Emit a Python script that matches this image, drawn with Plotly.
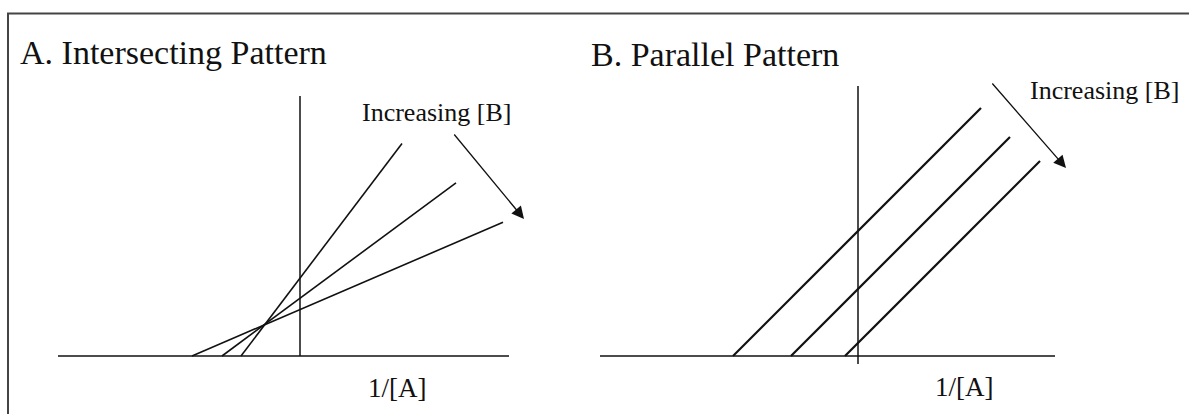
import plotly.graph_objects as go


#--------------------------------------------------
#      data (arbitrary units)
#--------------------------------------------------

# A. intersecting pattern: x-intercept, end of line, slope
a_x_start = [-0.59, -0.78, -1.08]
a_x_end = [1.02, 1.56, 2.03]
a_slope = [1.32, 0.74, 0.43]

# B. parallel pattern: same slope, shifted intercepts
b_x_start = [-1.25, -0.67, -0.13]
b_x_end = [1.23, 1.52, 1.82]
b_slope = [1.0, 1.0, 1.0]

# extent of the hand drawn axes
a_haxis = [-2.42, 2.09]
a_vaxis = [0, 2.60]
b_haxis = [-2.58, 1.97]
b_vaxis = [-0.08, 2.70]

# "increasing [B]" arrows, tail -> head
a_arrow_tail = (1.53, 2.23)
a_arrow_head = (2.24, 1.37)
b_arrow_tail = (1.33, 2.74)
b_arrow_head = (2.08, 1.88)

titles = ['A. Intersecting Pattern', 'B. Parallel Pattern']
xlabel = '1/[A]'
arrow_label = 'Increasing [B]'

#--------------------------------------------------
# plotting
#--------------------------------------------------

FONT = 'Liberation Serif'
INK = '#111111'

fig = go.Figure()


def add_axes(xr, yr, xa, ya):
    fig.add_trace(go.Scatter(x=xr, y=[0, 0], mode='lines', xaxis=xa, yaxis=ya,
                             line=dict(color=INK, width=1.5), hoverinfo='skip'))
    fig.add_trace(go.Scatter(x=[0, 0], y=yr, mode='lines', xaxis=xa, yaxis=ya,
                             line=dict(color=INK, width=1.5), hoverinfo='skip'))


def add_lines(x0s, x1s, slopes, xa, ya, w):
    for x0, x1, m in zip(x0s, x1s, slopes):
        fig.add_trace(go.Scatter(x=[x0, x1], y=[0, m * (x1 - x0)], mode='lines',
                                 xaxis=xa, yaxis=ya,
                                 line=dict(color=INK, width=w)))


add_axes(a_haxis, a_vaxis, 'x', 'y')
add_lines(a_x_start, a_x_end, a_slope, 'x', 'y', 1.6)

add_axes(b_haxis, b_vaxis, 'x2', 'y2')
add_lines(b_x_start, b_x_end, b_slope, 'x2', 'y2', 2.2)

# arrows
for (tail, head, xa, ya) in [(a_arrow_tail, a_arrow_head, 'x', 'y'),
                             (b_arrow_tail, b_arrow_head, 'x2', 'y2')]:
    fig.add_annotation(x=head[0], y=head[1], ax=tail[0], ay=tail[1],
                       xref=xa, yref=ya, axref=xa, ayref=ya, text='',
                       showarrow=True, arrowhead=2, arrowsize=1.9,
                       arrowwidth=1.3, arrowcolor=INK)

# text labels
labels = [
    (titles[0], 'paper', 'paper', 18 / 1189, 1 - 52 / 414, 34),
    (titles[1], 'paper', 'paper', 589 / 1189, 1 - 54 / 414, 34),
    (arrow_label, 'x', 'y', 0.60, 2.44, 26),
    (arrow_label, 'x2', 'y2', 1.70, 2.66, 26),
    (xlabel, 'x', 'y', 0.66, -0.32, 27),
    (xlabel, 'x2', 'y2', 0.75, -0.31, 27),
]
for txt, xr, yr, x, y, size in labels:
    fig.add_annotation(text=txt, x=x, y=y, xref=xr, yref=yr, showarrow=False,
                       xanchor='left', yanchor='middle',
                       font=dict(family=FONT, size=size, color=INK))

# frame round the figure (only top and left show, rest is cropped)
fig.add_shape(type='rect', xref='paper', yref='paper',
              x0=8 / 1189, x1=1.02, y0=-0.05, y1=1 - 13.5 / 414,
              line=dict(color='#444444', width=2))

hidden = dict(visible=False, showgrid=False, zeroline=False, fixedrange=True)
fig.update_layout(
    width=1189, height=414,
    margin=dict(l=0, r=0, t=0, b=0),
    paper_bgcolor='white', plot_bgcolor='white',
    showlegend=False,
    xaxis=dict(domain=[0, 0.5], range=[-3.0, 2.945], **hidden),
    yaxis=dict(domain=[0, 1], range=[-0.58, 3.56], **hidden),
    xaxis2=dict(domain=[0.5, 1], range=[-2.635, 3.31], anchor='y2', **hidden),
    yaxis2=dict(domain=[0, 1], range=[-0.58, 3.56], anchor='x2', **hidden),
)

# the page body has a default 8px margin, drop it so the figure fills the window
fig.write_html('out.html', config={'displayModeBar': False},
               post_script="document.body.style.margin='0';")
